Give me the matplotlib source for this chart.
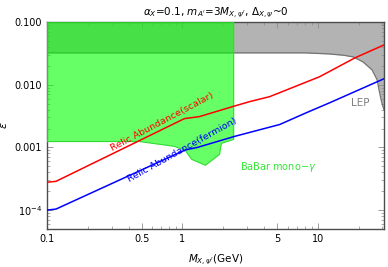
import matplotlib
matplotlib.use("Agg")
import matplotlib.pyplot as plt
import matplotlib.ticker as mticker
import numpy as np

# LEP excluded region lower boundary
lep_x = [0.1, 8.0, 12.0, 15.5, 18.2, 21.5, 25.1, 27.4, 28.3, 29.3, 30.0, 30.8]
lep_y = [0.0322, 0.0322, 0.0310, 0.0295, 0.0278, 0.0232, 0.0173, 0.0120, 0.0083, 0.0058, 0.0047, 0.0040]

# BaBar mono-gamma excluded region lower boundary
babar_x = [0.1, 0.48, 0.873, 1.05, 1.17, 1.48, 1.88, 1.94, 2.39]
babar_y = [1.24e-3, 1.24e-3, 1.04e-3, 8.96e-4, 6.45e-4, 5.18e-4, 7.74e-4, 1.16e-3, 1.34e-3]

# Relic abundance (scalar)
scalar_x = [0.1, 0.1166, 1.035, 1.336, 2.35, 3.13, 4.41, 5.23, 10.3, 18.8, 30.8]
scalar_y = [2.78e-4, 2.88e-4, 2.88e-3, 3.10e-3, 4.48e-3, 5.37e-3, 6.45e-3, 7.47e-3, 0.0134, 0.0268, 0.0431]

# Relic abundance (fermion)
fermion_x = [0.1, 0.1166, 1.05, 1.29, 2.43, 5.23, 8.29, 12.3, 30.8]
fermion_y = [1.0e-4, 1.04e-4, 9.12e-4, 1.0e-3, 1.5e-3, 2.32e-3, 3.6e-3, 5.18e-3, 0.01245]

xticks = [0.1, 0.5, 1, 5, 10]
xticklabels = ["0.1", "0.5", "1", "5", "10"]
yticks = [1e-4, 1e-3, 1e-2, 1e-1]
yticklabels = [r"$10^{-4}$", "0.001", "0.010", "0.100"]

XMIN, XMAX = 0.1, 30.8
YMIN, YMAX = 5.0e-5, 0.1

fig = plt.figure(figsize=(3.88, 2.67), dpi=100)
ax = fig.add_axes([47/388, 1-229/267, (384-47)/388, (229-22)/267])

ax.fill_between(lep_x, lep_y, YMAX, color=(0.70, 0.70, 0.70), lw=0, zorder=1)
ax.plot(lep_x, lep_y, color=(0.45, 0.45, 0.45), lw=0.9, zorder=2)

bx = babar_x + [babar_x[-1], babar_x[0]]
by = babar_y + [YMAX, YMAX]
ax.fill(bx, by, facecolor=(0, 1, 0, 0.6), edgecolor=(0.2, 0.85, 0.2), lw=0.8, zorder=3)

ax.plot(scalar_x, scalar_y, color="red", lw=1.1, zorder=4)
ax.plot(fermion_x, fermion_y, color="blue", lw=1.1, zorder=4)

ax.set_xscale("log")
ax.set_yscale("log")
ax.set_xlim(XMIN, XMAX)
ax.set_ylim(YMIN, YMAX)

ax.xaxis.set_major_locator(mticker.FixedLocator(xticks))
ax.xaxis.set_major_formatter(mticker.FixedFormatter(xticklabels))
ax.xaxis.set_minor_locator(mticker.LogLocator(base=10, subs=np.arange(2, 10)))
ax.xaxis.set_minor_formatter(mticker.NullFormatter())
ax.yaxis.set_major_locator(mticker.FixedLocator(yticks))
ax.yaxis.set_major_formatter(mticker.FixedFormatter(yticklabels))
ax.yaxis.set_minor_locator(mticker.LogLocator(base=10, subs=np.arange(2, 10)))
ax.yaxis.set_minor_formatter(mticker.NullFormatter())

ax.tick_params(which="both", direction="in", top=True, right=True, colors=(0.55, 0.55, 0.55),
               labelcolor="black", labelsize=7)
ax.tick_params(which="major", length=4, width=0.6)
ax.tick_params(which="minor", length=2, width=0.5)
for s in ax.spines.values():
    s.set_color((0.3, 0.3, 0.3))
    s.set_linewidth(1.0)

ax.set_title(r"$\alpha_X$=0.1, $m_{A'}$=3$M_{X,\psi'}$, $\Delta_{X,\psi}$~0", fontsize=7.5, pad=5)
ax.set_xlabel(r"$M_{X,\psi'}$(GeV)", fontsize=7.5, labelpad=6)
ax.set_ylabel(r"$\epsilon$", fontsize=8)
ax.yaxis.set_label_coords(-(47 - 9) / 337, 0.5)

ax.text(0.342, 0.52, "Relic Abundance(scalar)", transform=ax.transAxes, color="red",
        fontsize=6.8, rotation=28, ha="center", va="center", zorder=5)
ax.text(0.40, 0.38, "Relic Abundance(fermion)", transform=ax.transAxes, color="blue",
        fontsize=6.8, rotation=29, ha="center", va="center", zorder=5)
ax.text(0.685, 0.30, r"BaBar mono$-\gamma$", transform=ax.transAxes, color=(0.2, 0.9, 0.2),
        fontsize=7, ha="center", va="center", zorder=5)
ax.text(0.93, 0.61, "LEP", transform=ax.transAxes, color=(0.5, 0.5, 0.5),
        fontsize=7.5, ha="center", va="center", zorder=5)

fig.savefig("out.png", dpi=100)
